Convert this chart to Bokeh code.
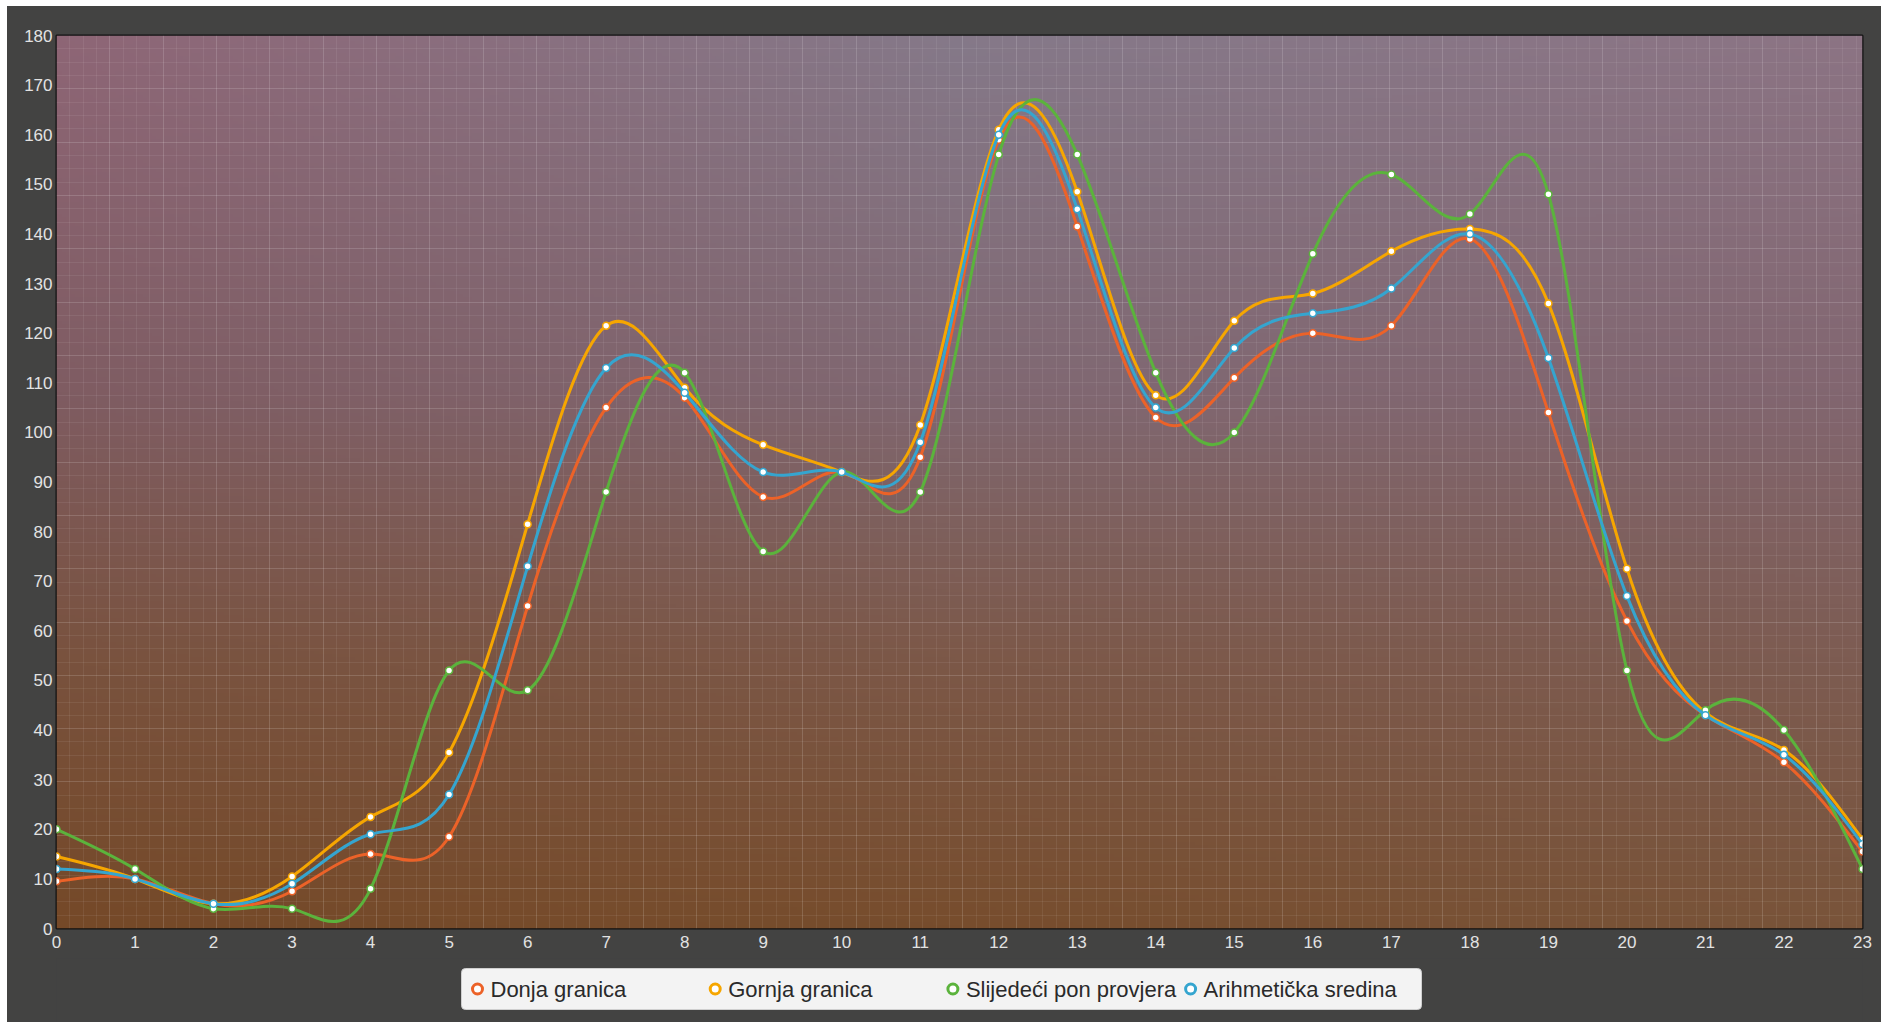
import numpy as np
from bokeh.plotting import figure
from bokeh.layouts import column
from bokeh.models import Range1d, FixedTicker, Grid, ColumnDataSource
from bokeh.core.properties import value
from bokeh.embed import file_html
from bokeh.resources import INLINE

# ---------------- data ----------------
hours = list(range(24))
donja = [9.5, 10, 5, 7.5, 15, 18.5, 65, 105, 107, 87, 92, 95, 159, 141.5,
         103, 111, 120, 121.5, 139, 104, 62, 43, 33.5, 15.5]
gornja = [14.5, 10, 5, 10.5, 22.5, 35.5, 81.5, 121.5, 109, 97.5, 92, 101.5, 161, 148.5,
          107.5, 122.5, 128, 136.5, 141, 126, 72.5, 43.5, 36, 18]
slijedeci = [20, 12, 4, 4, 8, 52, 48, 88, 112, 76, 92, 88, 156, 156,
             112, 100, 136, 152, 144, 148, 52, 44, 40, 12]
sredina = [12, 10, 5, 9, 19, 27, 73, 113, 108, 92, 92, 98, 160, 145,
           105, 117, 124, 129, 140, 115, 67, 43, 35, 17]
series_names = ["Donja granica", "Gornja granica", "Slijedeći pon provjera", "Arihmetička sredina"]
series_values = [donja, gornja, slijedeci, sredina]
series_colors = ["#ec6228", "#f6a600", "#5bb33c", "#35a5cf"]
y_ticks = list(range(0, 181, 10))

# ---------------- layout ----------------
W = 1874
H = 952
BL, BR, BT, BB = 49, 19, 29, 30
FW, FH = W - BL - BR, H - BT - BB
XMAX, YMAX = 23, 180
SX, SY = FW / XMAX, FH / YMAX  # px per data unit
DARK = "#434342"

p = figure(width=W, height=H, output_backend="svg", toolbar_location=None,
           x_range=Range1d(0, XMAX), y_range=Range1d(0, YMAX),
           min_border_left=BL, min_border_right=BR, min_border_top=BT, min_border_bottom=BB)
p.border_fill_color = DARK
p.background_fill_color = "#7d6060"
p.outline_line_color = "#111111"
p.outline_line_width = 2
p.xgrid.visible = False
p.ygrid.visible = False

# ---------------- background gradient ----------------
IH, IW = 300, 400
us = np.linspace(0, 1, IW)
ts = 1 - np.linspace(0, 1, IH)  # row 0 = bottom -> t=1
t_stops = [0.0, 0.4, 0.7, 1.0]
col_stops = {
    0.0: [(142, 102, 118), (127, 92, 98), (121, 82, 62), (117, 73, 40)],
    0.5: [(133, 121, 137), (128, 104, 114), (124, 88, 72), (119, 77, 45)],
    1.0: [(140, 116, 132), (130, 102, 112), (125, 92, 82), (121, 84, 58)],
}
rgba = np.zeros((IH, IW, 4), dtype=np.uint8)
rgba[..., 3] = 255
for ch in range(3):
    cols = np.array([np.interp(ts, t_stops, [c[ch] for c in col_stops[u]])
                     for u in (0.0, 0.5, 1.0)])
    vals = np.empty((IH, IW))
    for r in range(IH):
        vals[r] = np.interp(us, [0.0, 0.5, 1.0], cols[:, r])
    rgba[..., ch] = np.clip(vals, 0, 255).astype(np.uint8)
img = rgba.view(dtype=np.uint32).reshape((IH, IW))
p.image_rgba(image=[img], x=0, y=0, dw=XMAX, dh=YMAX, level="image")

# ---------------- background grid pattern ----------------
GP = 13.33
fine_x = [k * GP / SX for k in range(int(FW / GP) + 1)]
fine_y = [YMAX - k * GP / SY for k in range(int(FH / GP) + 1)]
for dim, fine in ((0, fine_x), (1, fine_y)):
    p.add_layout(Grid(dimension=dim, ticker=FixedTicker(ticks=fine), grid_line_color="white",
                      grid_line_alpha=0.07, grid_line_width=1, level="underlay"))
    p.add_layout(Grid(dimension=dim, ticker=FixedTicker(ticks=fine[::4]), grid_line_color="white",
                      grid_line_alpha=0.09, grid_line_width=1, level="underlay"))

# ---------------- axes ----------------
for ax in (p.xaxis, p.yaxis):
    ax.axis_line_color = None
    ax.major_tick_line_color = None
    ax.minor_tick_line_color = None
    ax.major_tick_out = 0
    ax.major_tick_in = 0
    ax.minor_tick_out = 0
    ax.minor_tick_in = 0
    ax.major_label_text_font = "Liberation Sans"
    ax.major_label_text_font_size = "17px"
    ax.major_label_text_color = "#e2e2e2"
p.xaxis.ticker = FixedTicker(ticks=hours)
p.yaxis.ticker = FixedTicker(ticks=y_ticks)
p.xaxis.major_label_standoff = 7
p.yaxis.major_label_standoff = 4


# ---------------- natural cubic spline -> bezier segments ----------------
def spline_segments(xs, ys):
    y = np.asarray(ys, dtype=float)
    n = len(y)
    A = np.zeros((n, n))
    b = np.zeros(n)
    A[0, 0] = A[-1, -1] = 1.0
    for i in range(1, n - 1):
        A[i, i - 1], A[i, i], A[i, i + 1] = 1.0, 4.0, 1.0
        b[i] = 6.0 * (y[i + 1] - 2 * y[i] + y[i - 1])
    M = np.linalg.solve(A, b)
    seg = dict(x0=[], y0=[], x1=[], y1=[], cx0=[], cy0=[], cx1=[], cy1=[])
    for i in range(n - 1):
        h = xs[i + 1] - xs[i]
        d = (y[i + 1] - y[i]) / h
        d0 = d - h * (2 * M[i] + M[i + 1]) / 6.0
        d1 = d + h * (M[i] + 2 * M[i + 1]) / 6.0
        seg["x0"].append(xs[i]); seg["y0"].append(y[i])
        seg["x1"].append(xs[i + 1]); seg["y1"].append(y[i + 1])
        seg["cx0"].append(xs[i] + h / 3); seg["cy0"].append(y[i] + h * d0 / 3)
        seg["cx1"].append(xs[i + 1] - h / 3); seg["cy1"].append(y[i + 1] - h * d1 / 3)
    return seg


for name, vals, color in zip(series_names, series_values, series_colors):
    seg = ColumnDataSource(spline_segments(hours, vals))
    p.bezier(x0="x0", y0="y0", x1="x1", y1="y1", cx0="cx0", cy0="cy0", cx1="cx1", cy1="cy1",
             source=seg, line_color=color, line_width=3)
    p.scatter(hours, vals, size=7, fill_color="white", line_color=color, line_width=1.5)

# ---------------- legend strip (separate figure below, frame aligned with p) ----------------
LH = 64
q = figure(width=W, height=LH, output_backend="svg", toolbar_location=None,
           x_range=Range1d(BL, W - BR), y_range=Range1d(0, LH),
           x_axis_type=None, y_axis_type=None,
           min_border_left=BL, min_border_right=BR, min_border_top=0, min_border_bottom=0)
q.border_fill_color = DARK
q.background_fill_color = DARK
q.outline_line_color = None

BOX_L, BOX_R, BOX_B, BOX_T = 454, 1414, 13, 54
ITEM_X0, ITEM_PITCH, MID_Y = 470, 237.7, 33.5
q.quad(left=[BOX_L], right=[BOX_R], bottom=[BOX_B], top=[BOX_T],
       fill_color="#f3f3f3", line_color="#cfcfcf", line_width=1, border_radius=4)
mx = [ITEM_X0 + i * ITEM_PITCH for i in range(len(series_names))]
q.scatter(mx, [MID_Y] * len(mx), size=10, fill_color="white",
          line_color=series_colors, line_width=3)
q.text([x + 13 for x in mx], [MID_Y] * len(mx), text=series_names,
       text_font=value("Liberation Sans"), text_font_size="22px",
       text_color="#2a2a2a", text_align="left", text_baseline="middle")

layout = column(p, q, spacing=0, margin=(6, 0, 0, 7),
                styles={"background-color": DARK})
open("out.html", "w").write(file_html(layout, INLINE))
